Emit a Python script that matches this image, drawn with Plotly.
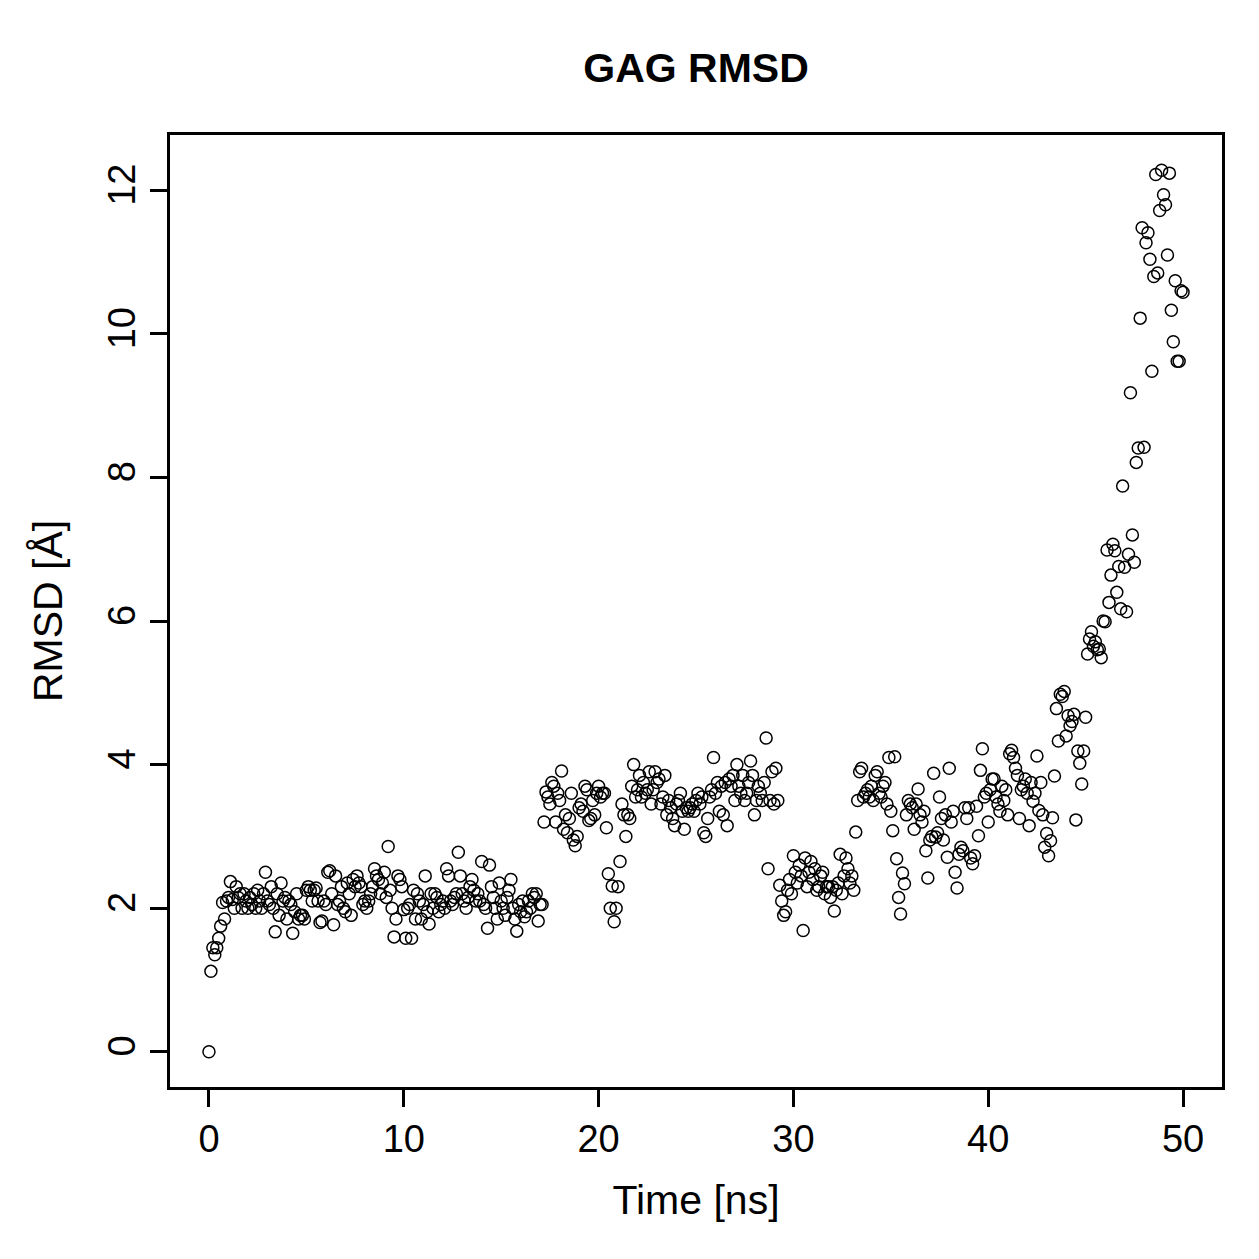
import plotly.graph_objects as go

# RMSD values (Å), sampled every 0.1 ns
time_step_ns = 0.1
rmsd_00_10 = [0.0,
    1.12, 1.45, 1.35, 1.45, 1.58, 1.75, 2.08, 1.85, 2.1, 2.15,
    2.37, 2.12, 2.0, 2.3, 2.15, 2.2, 2.0, 2.2, 2.1, 2.0,
    2.15, 2.05, 2.2, 2.0, 2.25, 2.1, 2.0, 2.2, 2.5, 2.1,
    2.05, 2.3, 2.0, 1.67, 2.2, 1.9, 2.35, 2.1, 2.15, 1.85,
    2.1, 2.05, 1.65, 1.95, 2.2, 1.85, 1.9, 1.9, 1.85, 2.25,
    2.3, 2.25, 2.1, 2.25, 2.28, 2.1, 1.8, 1.82, 2.1, 2.05,
    2.5, 2.52, 2.2, 1.77, 2.45, 2.05, 2.1, 2.3, 2.0, 1.95,
    2.35, 2.2, 1.9, 2.4, 2.3, 2.45, 2.35, 2.3, 2.05, 2.1,
    2.0, 2.1, 2.2, 2.3, 2.55, 2.45, 2.4, 2.2, 2.35, 2.5,
    2.15, 2.86, 2.25, 2.0, 1.6, 1.85, 2.45, 2.4, 2.3, 1.98]
rmsd_10_20 = [
    1.58, 2.0, 2.05, 1.58, 2.25, 1.85, 2.2, 2.1, 1.85, 2.05,
    2.45, 1.95, 1.78, 2.2, 2.0, 2.2, 2.15, 1.95, 2.05, 2.1,
    2.0, 2.55, 2.45, 2.1, 2.05, 2.15, 2.2, 2.78, 2.45, 2.2,
    2.1, 2.0, 2.15, 2.3, 2.4, 2.25, 2.1, 2.2, 2.1, 2.65,
    2.05, 2.0, 1.72, 2.6, 2.3, 2.15, 2.0, 1.85, 2.35, 2.1,
    2.0, 1.9, 2.15, 2.25, 2.4, 2.0, 1.85, 1.68, 2.05, 1.95,
    2.1, 1.88, 1.95, 2.1, 2.0, 2.2, 2.15, 2.2, 1.82, 2.05,
    2.05, 3.2, 3.62, 3.55, 3.45, 3.75, 3.7, 3.2, 3.6, 3.5,
    3.91, 3.1, 3.3, 3.05, 3.25, 3.6, 2.95, 2.87, 3.0, 3.4,
    3.45, 3.35, 3.7, 3.65, 3.22, 3.25, 3.5, 3.3, 3.6, 3.7]
rmsd_20_30 = [
    3.55, 3.6, 3.6, 3.12, 2.48, 2.0, 2.31, 1.81, 2.0, 2.3,
    2.65, 3.45, 3.3, 3.0, 3.3, 3.25, 3.7, 4.0, 3.55, 3.65,
    3.85, 3.55, 3.75, 3.6, 3.65, 3.9, 3.45, 3.65, 3.9, 3.75,
    3.8, 3.45, 3.55, 3.85, 3.3, 3.5, 3.4, 3.25, 3.15, 3.45,
    3.5, 3.6, 3.35, 3.1, 3.4, 3.35, 3.4, 3.45, 3.35, 3.5,
    3.6, 3.45, 3.55, 3.05, 3.0, 3.25, 3.55, 3.65, 4.1, 3.6,
    3.75, 3.35, 3.7, 3.3, 3.75, 3.15, 3.8, 3.7, 3.85, 3.5,
    4.0, 3.7, 3.6, 3.85, 3.5, 3.6, 3.75, 4.05, 3.85, 3.3,
    3.5, 3.7, 3.6, 3.5, 3.75, 4.37, 2.55, 3.5, 3.9, 3.45,
    3.95, 3.5, 2.32, 2.1, 1.9, 1.95, 2.25, 2.4, 2.2, 2.73]
rmsd_30_40 = [
    2.5, 2.35, 2.6, 2.45, 1.69, 2.7, 2.3, 2.5, 2.65, 2.4,
    2.55, 2.25, 2.3, 2.45, 2.5, 2.2, 2.3, 2.3, 2.15, 2.3,
    1.96, 2.25, 2.35, 2.75, 2.2, 2.45, 2.7, 2.55, 2.35, 2.45,
    2.25, 3.06, 3.5, 3.9, 3.95, 3.55, 3.6, 3.65, 3.55, 3.7,
    3.5, 3.85, 3.9, 3.6, 3.55, 3.7, 3.75, 3.45, 4.1, 3.35,
    3.08, 4.11, 2.69, 2.15, 1.92, 2.49, 2.34, 3.3, 3.5, 3.45,
    3.4, 3.1, 3.45, 3.66, 3.3, 3.2, 3.35, 2.8, 2.42, 2.95,
    3.0, 3.88, 2.99, 3.05, 3.55, 3.25, 2.95, 3.3, 2.71, 3.95,
    3.2, 3.35, 2.5, 2.28, 2.75, 2.85, 2.8, 3.4, 3.25, 3.4,
    2.7, 2.62, 2.73, 3.42, 3.01, 3.92, 4.22, 3.55, 3.6, 3.2]
rmsd_40_50 = [
    3.65, 3.8, 3.8, 3.55, 3.45, 3.35, 3.7, 3.5, 3.65, 3.3,
    4.15, 4.2, 4.1, 3.95, 3.85, 3.25, 3.65, 3.7, 3.8, 3.6,
    3.15, 3.75, 3.49, 3.6, 4.12, 3.36, 3.75, 3.3, 2.85, 3.04,
    2.73, 2.94, 3.26, 3.84, 4.78, 4.33, 4.98, 4.95, 5.02, 4.4,
    4.68, 4.54, 4.6, 4.7, 3.23, 4.19, 4.02, 3.73, 4.19, 4.66,
    5.54, 5.75, 5.85, 5.65, 5.71, 5.6, 5.61, 5.49, 6.0, 5.99,
    6.99, 6.26, 6.64, 7.07, 6.98, 6.4, 6.76, 6.17, 7.88, 6.75,
    6.13, 6.93, 9.18, 7.2, 6.82, 8.21, 8.41, 10.22, 11.48, 8.42,
    11.27, 11.41, 11.04, 9.48, 10.8, 12.22, 10.85, 11.72, 12.28, 11.94,
    11.8, 11.1, 12.24, 10.33, 9.89, 10.74, 9.62, 9.62, 10.6, 10.58]

rmsd = rmsd_00_10 + rmsd_10_20 + rmsd_20_30 + rmsd_30_40 + rmsd_40_50
time_ns = [round(i * time_step_ns, 1) for i in range(len(rmsd))]

x_ticks = [0, 10, 20, 30, 40, 50]
y_ticks = [0, 2, 4, 6, 8, 10, 12]

FONT = "Liberation Sans, Arial, Helvetica, sans-serif"

fig = go.Figure()
fig.add_trace(go.Scatter(
    x=time_ns, y=rmsd, mode="markers",
    marker=dict(symbol="circle-open", size=12, color="black",
                line=dict(width=1.5, color="black")),
    showlegend=False, hoverinfo="x+y"))

xmin, xmax = min(time_ns), max(time_ns)
ymin, ymax = min(rmsd), max(rmsd)
xpad = (xmax - xmin) * 0.04
ypad = (ymax - ymin) * 0.04

axis_common = dict(
    showline=True, linecolor="black", linewidth=2.6, mirror=True,
    ticks="outside", ticklen=17, tickwidth=2.6, tickcolor="black",
    showgrid=False, zeroline=False,
    tickfont=dict(family=FONT, size=38, color="black"),
)

fig.update_layout(
    width=1259, height=1259,
    margin=dict(l=170, r=37, t=135, b=172),
    paper_bgcolor="white", plot_bgcolor="white",
    font=dict(family=FONT, color="black"),
    title=dict(text="<b>GAG RMSD</b>", x=0.5, xref="paper",
               y=1 - 68 / 1259, yref="container", yanchor="middle",
               xanchor="center",
               font=dict(family=FONT, size=41, color="black")),
    xaxis=dict(range=[xmin - xpad, xmax + xpad], tickvals=x_ticks,
               ticktext=[str(v) for v in x_ticks],
               title=dict(text="Time [ns]", standoff=26,
                          font=dict(family=FONT, size=41, color="black")),
               **axis_common),
    yaxis=dict(range=[ymin - ypad, ymax + ypad], tickvals=y_ticks,
               ticktext=[str(v) for v in y_ticks], tickangle=-90,
               title=dict(text="RMSD [Å]", standoff=26,
                          font=dict(family=FONT, size=41, color="black")),
               **axis_common),
)

fig.write_html("out.html")
